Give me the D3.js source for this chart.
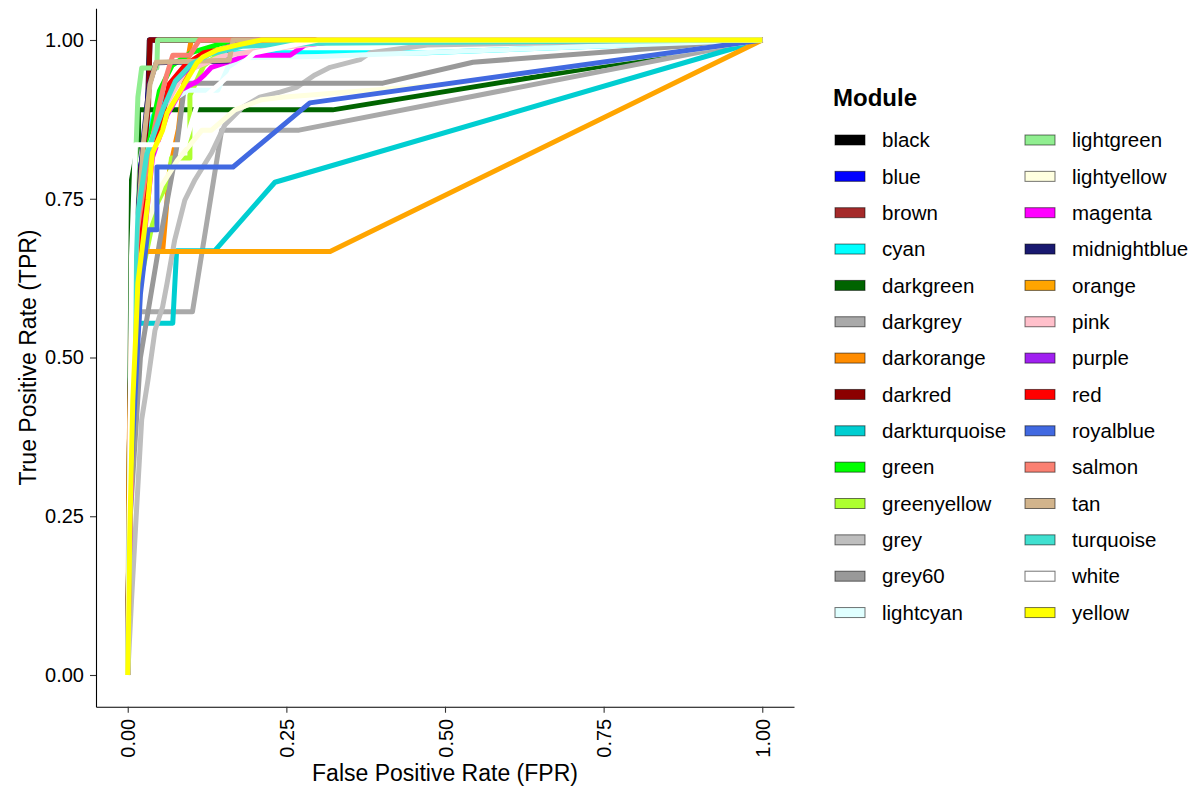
<!DOCTYPE html>
<html>
<head>
<meta charset="utf-8">
<script src="https://cdn.jsdelivr.net/npm/d3@7/dist/d3.min.js"></script>
<style>
	body { margin: 0; background: #fff; }
	text { font-family: "Liberation Sans", Arial, sans-serif; }
</style>
</head>
<body>
<div id="chart"></div>
<script>
const modules = ["black", "blue", "brown", "cyan", "darkgreen", "darkgrey", "darkorange", "darkred", "darkturquoise", "green", "greenyellow", "grey", "grey60", "lightcyan", "lightgreen", "lightyellow", "magenta", "midnightblue", "orange", "pink", "purple", "red", "royalblue", "salmon", "tan", "turquoise", "white", "yellow"];
const moduleColors = ["#000000", "#0000FF", "#A52A2A", "#00FFFF", "#006400", "#A9A9A9", "#FF8C00", "#8B0000", "#00CED1", "#00FF00", "#ADFF2F", "#BEBEBE", "#999999", "#E0FFFF", "#90EE90", "#FFFFE0", "#FF00FF", "#191970", "#FFA500", "#FFC0CB", "#A020F0", "#FF0000", "#4169E1", "#FA8072", "#D2B48C", "#40E0D0", "#FFFFFF", "#FFFF00"];
const tickValues = [0, 0.25, 0.5, 0.75, 1];

// ROC points per module: [FPR, TPR]
const black = [[0, 0], [0.003, 0.4], [0.008, 0.65], [0.012, 0.75], [0.027, 0.84], [0.032, 0.92], [0.034, 1], [1, 1]];
const blue = [[0, 0], [0.003, 0.4], [0.008, 0.66], [0.013, 0.76], [0.028, 0.845], [0.033, 0.93], [0.035, 1], [1, 1]];
const brown = [[0, 0], [0.003, 0.38], [0.008, 0.64], [0.012, 0.74], [0.026, 0.83], [0.033, 0.9], [0.035, 1], [1, 1]];
const cyan = [[0, 0], [0.004, 0.3], [0.01, 0.6], [0.02, 0.78], [0.04, 0.88], [0.07, 0.93], [0.1, 0.955], [0.15, 0.975], [0.17, 0.98], [0.47, 0.98], [1, 1]];
const darkgreen = [[0, 0], [0.003, 0.4], [0.006, 0.78], [0.017, 0.84], [0.017, 0.89], [0.323, 0.89], [1, 1]];
const darkgrey = [[0, 0], [0.003, 0.2], [0.008, 0.45], [0.019, 0.572], [0.102, 0.572], [0.148, 0.858], [0.27, 0.858], [1, 1]];
const darkorange = [[0, 0], [0.004, 0.3], [0.013, 0.55], [0.018, 0.667], [0.055, 0.667], [0.066, 0.795], [0.08, 0.86], [0.088, 0.93], [0.1, 1], [1, 1]];
const darkred = [[0, 0], [0.003, 0.4], [0.008, 0.65], [0.012, 0.75], [0.028, 0.84], [0.033, 0.92], [0.035, 1], [1, 1]];
const darkturquoise = [[0, 0], [0.005, 0.3], [0.014, 0.554], [0.071, 0.554], [0.077, 0.668], [0.137, 0.668], [0.232, 0.776], [1, 1]];
const green = [[0, 0], [0.005, 0.4], [0.015, 0.65], [0.03, 0.82], [0.05, 0.92], [0.07, 0.96], [0.1, 0.98], [0.15, 0.995], [0.2, 1], [1, 1]];
const greenyellow = [[0, 0], [0.005, 0.35], [0.02, 0.62], [0.045, 0.74], [0.065, 0.78], [0.069, 0.814], [0.098, 0.814], [0.098, 0.913], [0.12, 0.96], [0.16, 0.99], [0.2, 1], [1, 1]];
const grey = [[0, 0], [0.006, 0.118], [0.013, 0.244], [0.022, 0.402], [0.032, 0.465], [0.043, 0.543], [0.055, 0.58], [0.062, 0.617], [0.074, 0.685], [0.09, 0.748], [0.106, 0.78], [0.132, 0.822], [0.153, 0.866], [0.181, 0.894], [0.208, 0.91], [0.24, 0.918], [0.267, 0.926], [0.295, 0.945], [0.319, 0.957], [0.366, 0.969], [0.382, 0.98], [0.472, 0.992], [0.629, 0.995], [1, 1]];
const grey60 = [[0, 0], [0.004, 0.25], [0.02, 0.5], [0.05, 0.68], [0.072, 0.8], [0.077, 0.83], [0.09, 0.932], [0.402, 0.932], [0.544, 0.965], [1, 1]];
const lightcyan = [[0, 0], [0.005, 0.4], [0.015, 0.7], [0.03, 0.82], [0.05, 0.88], [0.07, 0.905], [0.095, 0.921], [0.142, 0.921], [0.158, 0.957], [0.18, 0.972], [0.3, 0.974], [1, 1]];
const lightgreen = [[0, 0], [0.003, 0.3], [0.008, 0.6], [0.012, 0.8], [0.016, 0.91], [0.022, 0.956], [0.046, 0.956], [0.047, 1], [1, 1]];
const lightyellow = [[0, 0], [0.006, 0.45], [0.02, 0.68], [0.053, 0.77], [0.078, 0.81], [0.117, 0.858], [0.132, 0.858], [0.169, 0.89], [0.211, 0.906], [0.243, 0.91], [0.5, 0.93], [1, 1]];
const magenta = [[0, 0], [0.002, 0.15], [0.008, 0.43], [0.016, 0.6], [0.027, 0.7], [0.039, 0.815], [0.062, 0.882], [0.085, 0.922], [0.11, 0.935], [0.121, 0.945], [0.132, 0.957], [0.169, 0.969], [0.185, 0.976], [0.256, 0.976], [0.279, 0.992], [0.319, 0.997], [1, 1]];
const midnightblue = [[0, 0], [0.004, 0.42], [0.014, 0.7], [0.024, 0.84], [0.034, 0.93], [0.045, 0.964], [0.158, 0.967], [0.166, 1], [1, 1]];
const orange = [[0, 0], [0.002, 0.35], [0.006, 0.55], [0.012, 0.667], [0.319, 0.667], [1, 1]];
const pink = [[0, 0], [0.005, 0.4], [0.02, 0.72], [0.05, 0.88], [0.09, 0.95], [0.15, 0.975], [0.22, 0.985], [0.3, 0.995], [0.33, 1], [1, 1]];
const purple = [[0, 0], [0.004, 0.3], [0.015, 0.62], [0.035, 0.8], [0.055, 0.89], [0.07, 0.93], [0.09, 0.95], [0.12, 0.975], [0.16, 0.99], [0.2, 1], [1, 1]];
const red = [[0, 0], [0.005, 0.45], [0.02, 0.72], [0.04, 0.83], [0.055, 0.88], [0.065, 0.93], [0.09, 0.96], [0.12, 0.98], [0.2, 0.995], [0.28, 1], [1, 1]];
const royalblue = [[0, 0], [0.004, 0.3], [0.02, 0.6], [0.032, 0.701], [0.046, 0.701], [0.046, 0.8], [0.166, 0.8], [0.287, 0.901], [1, 1]];
const salmon = [[0, 0], [0.004, 0.4], [0.015, 0.7], [0.03, 0.8], [0.05, 0.9], [0.06, 0.94], [0.071, 0.976], [0.098, 0.976], [0.113, 1], [1, 1]];
const tan = [[0, 0], [0.004, 0.4], [0.015, 0.7], [0.025, 0.84], [0.035, 0.93], [0.045, 0.965], [0.16, 0.968], [0.166, 1], [1, 1]];
const turquoise = [[0, 0], [0.003, 0.3], [0.008, 0.55], [0.015, 0.72], [0.03, 0.82], [0.055, 0.89], [0.075, 0.935], [0.1, 0.962], [0.13, 0.978], [0.18, 0.99], [0.3, 0.995], [1, 1]];
const white = [[0, 0], [0.003, 0.3], [0.006, 0.66], [0.012, 0.835], [0.09, 0.835], [0.11, 0.9], [0.2, 0.98], [0.3, 1], [1, 1]];
const yellow = [[0, 0], [0.002, 0.118], [0.003, 0.213], [0.008, 0.433], [0.013, 0.543], [0.016, 0.617], [0.027, 0.706], [0.032, 0.748], [0.039, 0.822], [0.055, 0.858], [0.062, 0.885], [0.077, 0.91], [0.093, 0.937], [0.109, 0.964], [0.118, 0.973], [0.14, 0.984], [0.172, 0.992], [0.211, 1], [1, 1]];

const curves = [black, blue, brown, cyan, darkgreen, darkgrey, darkorange, darkred, darkturquoise, green, greenyellow, grey, grey60, lightcyan, lightgreen, lightyellow, magenta, midnightblue, orange, pink, purple, red, royalblue, salmon, tan, turquoise, white, yellow];

const width = 1196;
const height = 789;
const panel = { left: 96, right: 794, top: 8.25, bottom: 706.75 };

const svg = d3
	.select("#chart")
	.append("svg")
	.attr("width", width)
	.attr("height", height);

const x = d3.scaleLinear().domain([-0.05, 1.05]).range([panel.left, panel.right]);
const y = d3.scaleLinear().domain([-0.05, 1.05]).range([panel.bottom, panel.top]);

const line = d3
	.line()
	.x((d) => x(d[0]))
	.y((d) => y(d[1]));

svg.append("g")
	.selectAll("path")
	.data(curves)
	.enter()
	.append("path")
	.attr("d", line)
	.attr("fill", "none")
	.attr("stroke", (_d, i) => moduleColors[i])
	.attr("stroke-width", 5)
	.attr("stroke-linejoin", "round");

// axes
const yAxis = svg
	.append("g")
	.attr("transform", `translate(${panel.left},0)`)
	.call(d3.axisLeft(y).tickValues(tickValues).tickFormat(d3.format(".2f")).tickSize(6).tickSizeOuter(0).tickPadding(6));
const xAxis = svg
	.append("g")
	.attr("transform", `translate(0,${panel.bottom})`)
	.call(d3.axisBottom(x).tickValues(tickValues).tickFormat(d3.format(".2f")).tickSize(6).tickSizeOuter(0));

[xAxis, yAxis].forEach((ax) => {
	ax.select(".domain").attr("stroke", "#000").attr("stroke-width", 1.1);
	ax.selectAll(".tick line").attr("stroke", "#333").attr("stroke-width", 1.1);
	ax.selectAll(".tick text").attr("fill", "#000").style("font-size", "20px").style("font-family", "'Liberation Sans', Arial, sans-serif");
});

xAxis
	.selectAll(".tick text")
	.attr("transform", "rotate(-90)")
	.attr("x", -12)
	.attr("y", 0)
	.attr("dy", "0.35em")
	.style("text-anchor", "end");

svg.append("text")
	.attr("x", (panel.left + panel.right) / 2)
	.attr("y", 781)
	.attr("text-anchor", "middle")
	.style("font-size", "23px")
	.text("False Positive Rate (FPR)");

svg.append("text")
	.attr("transform", `translate(36,${(panel.top + panel.bottom) / 2}) rotate(-90)`)
	.attr("text-anchor", "middle")
	.style("font-size", "23px")
	.text("True Positive Rate (TPR)");

// legend
const legendRowGap = 36.35;
svg.append("text")
	.attr("x", 833)
	.attr("y", 106)
	.style("font-size", "24px")
	.style("font-weight", "bold")
	.text("Module");

const legendItems = svg
	.selectAll(".legend")
	.data(modules)
	.enter()
	.append("g")
	.attr("class", "legend")
	.attr("transform", (_d, i) => {
		const col = i < 14 ? 0 : 1;
		const row = i % 14;
		return `translate(${col === 0 ? 835 : 1025},${140 + row * legendRowGap})`;
	});

legendItems
	.append("rect")
	.attr("x", 0)
	.attr("y", -5)
	.attr("width", 30)
	.attr("height", 10)
	.attr("fill", (_d, i) => moduleColors[i])
	.attr("stroke", "rgba(0,0,0,0.55)")
	.attr("stroke-width", 1);

legendItems
	.append("text")
	.attr("x", 47)
	.attr("y", 0)
	.attr("dy", "0.35em")
	.style("font-size", "20.5px")
	.text((d) => d);
</script>
</body>
</html>
